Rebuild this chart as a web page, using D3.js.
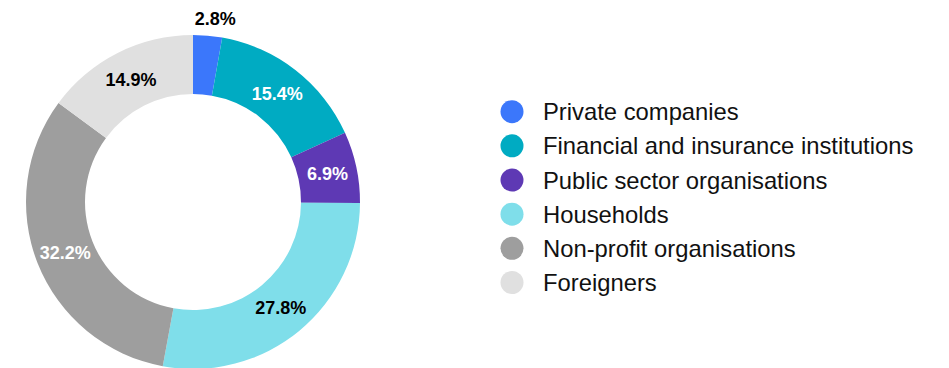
<!DOCTYPE html>
<html>
<head>
<meta charset="utf-8">
<script src="https://cdn.jsdelivr.net/npm/d3@7"></script>
<style>
  html, body { margin: 0; padding: 0; background: #fff; }
  svg { display: block; font-family: "Liberation Sans", Arial, Helvetica, sans-serif; }
</style>
</head>
<body>
<svg id="chart" width="949" height="368"></svg>
<script>
// Ownership shares by holder type (%)
const categories = [
  "Private companies",
  "Financial and insurance institutions",
  "Public sector organisations",
  "Households",
  "Non-profit organisations",
  "Foreigners"
];
const shares = [2.8, 15.4, 6.9, 27.8, 32.2, 14.9];
const colors = ["#3b77fb", "#00abc2", "#5e39b4", "#7fdeea", "#9e9e9e", "#e0e0e0"];
const labelColors = ["#000", "#fff", "#fff", "#000", "#fff", "#000"];
// slices too thin for an inside label get it placed outside the ring
const outsideLabel = [true, false, false, false, false, false];

const svg = d3.select("#chart");
const cx = 193, cy = 202, outerR = 167, innerR = 108;

const data = categories.map((c, i) => ({ name: c, value: shares[i], i }));

const pie = d3.pie().value(d => d.value).sort(null);
const arc = d3.arc().innerRadius(innerR).outerRadius(outerR);
const outerArc = d3.arc().innerRadius(184).outerRadius(184);

const g = svg.append("g").attr("transform", `translate(${cx},${cy})`);
const arcs = pie(data);

g.selectAll("path.slice")
  .data(arcs)
  .join("path")
  .attr("class", "slice")
  .attr("d", arc)
  .attr("fill", d => colors[d.data.i]);

g.selectAll("text.value")
  .data(arcs)
  .join("text")
  .attr("class", "value")
  .attr("transform", d => {
    const [x, y] = outsideLabel[d.data.i] ? outerArc.centroid(d) : arc.centroid(d);
    return `translate(${x + (outsideLabel[d.data.i] ? 6 : 0)},${y})`;
  })
  .attr("text-anchor", "middle")
  .attr("dy", "0.36em")
  .attr("font-size", "18px")
  .attr("font-weight", "bold")
  .attr("fill", d => outsideLabel[d.data.i] ? "#000" : labelColors[d.data.i])
  .text(d => d3.format(".1f")(d.data.value) + "%");

// Legend
const legendY = d3.scalePoint()
  .domain(categories)
  .range([111.7, 282.5]);

const legend = svg.append("g");
const items = legend.selectAll("g.item")
  .data(data)
  .join("g")
  .attr("class", "item")
  .attr("transform", d => `translate(512,${legendY(d.name)})`);

items.append("circle")
  .attr("r", 11.5)
  .attr("fill", d => colors[d.i]);

items.append("text")
  .attr("x", 31)
  .attr("dy", "0.36em")
  .attr("font-size", "23.8px")
  .attr("fill", "#111")
  .text(d => d.name);
</script>
</body>
</html>
